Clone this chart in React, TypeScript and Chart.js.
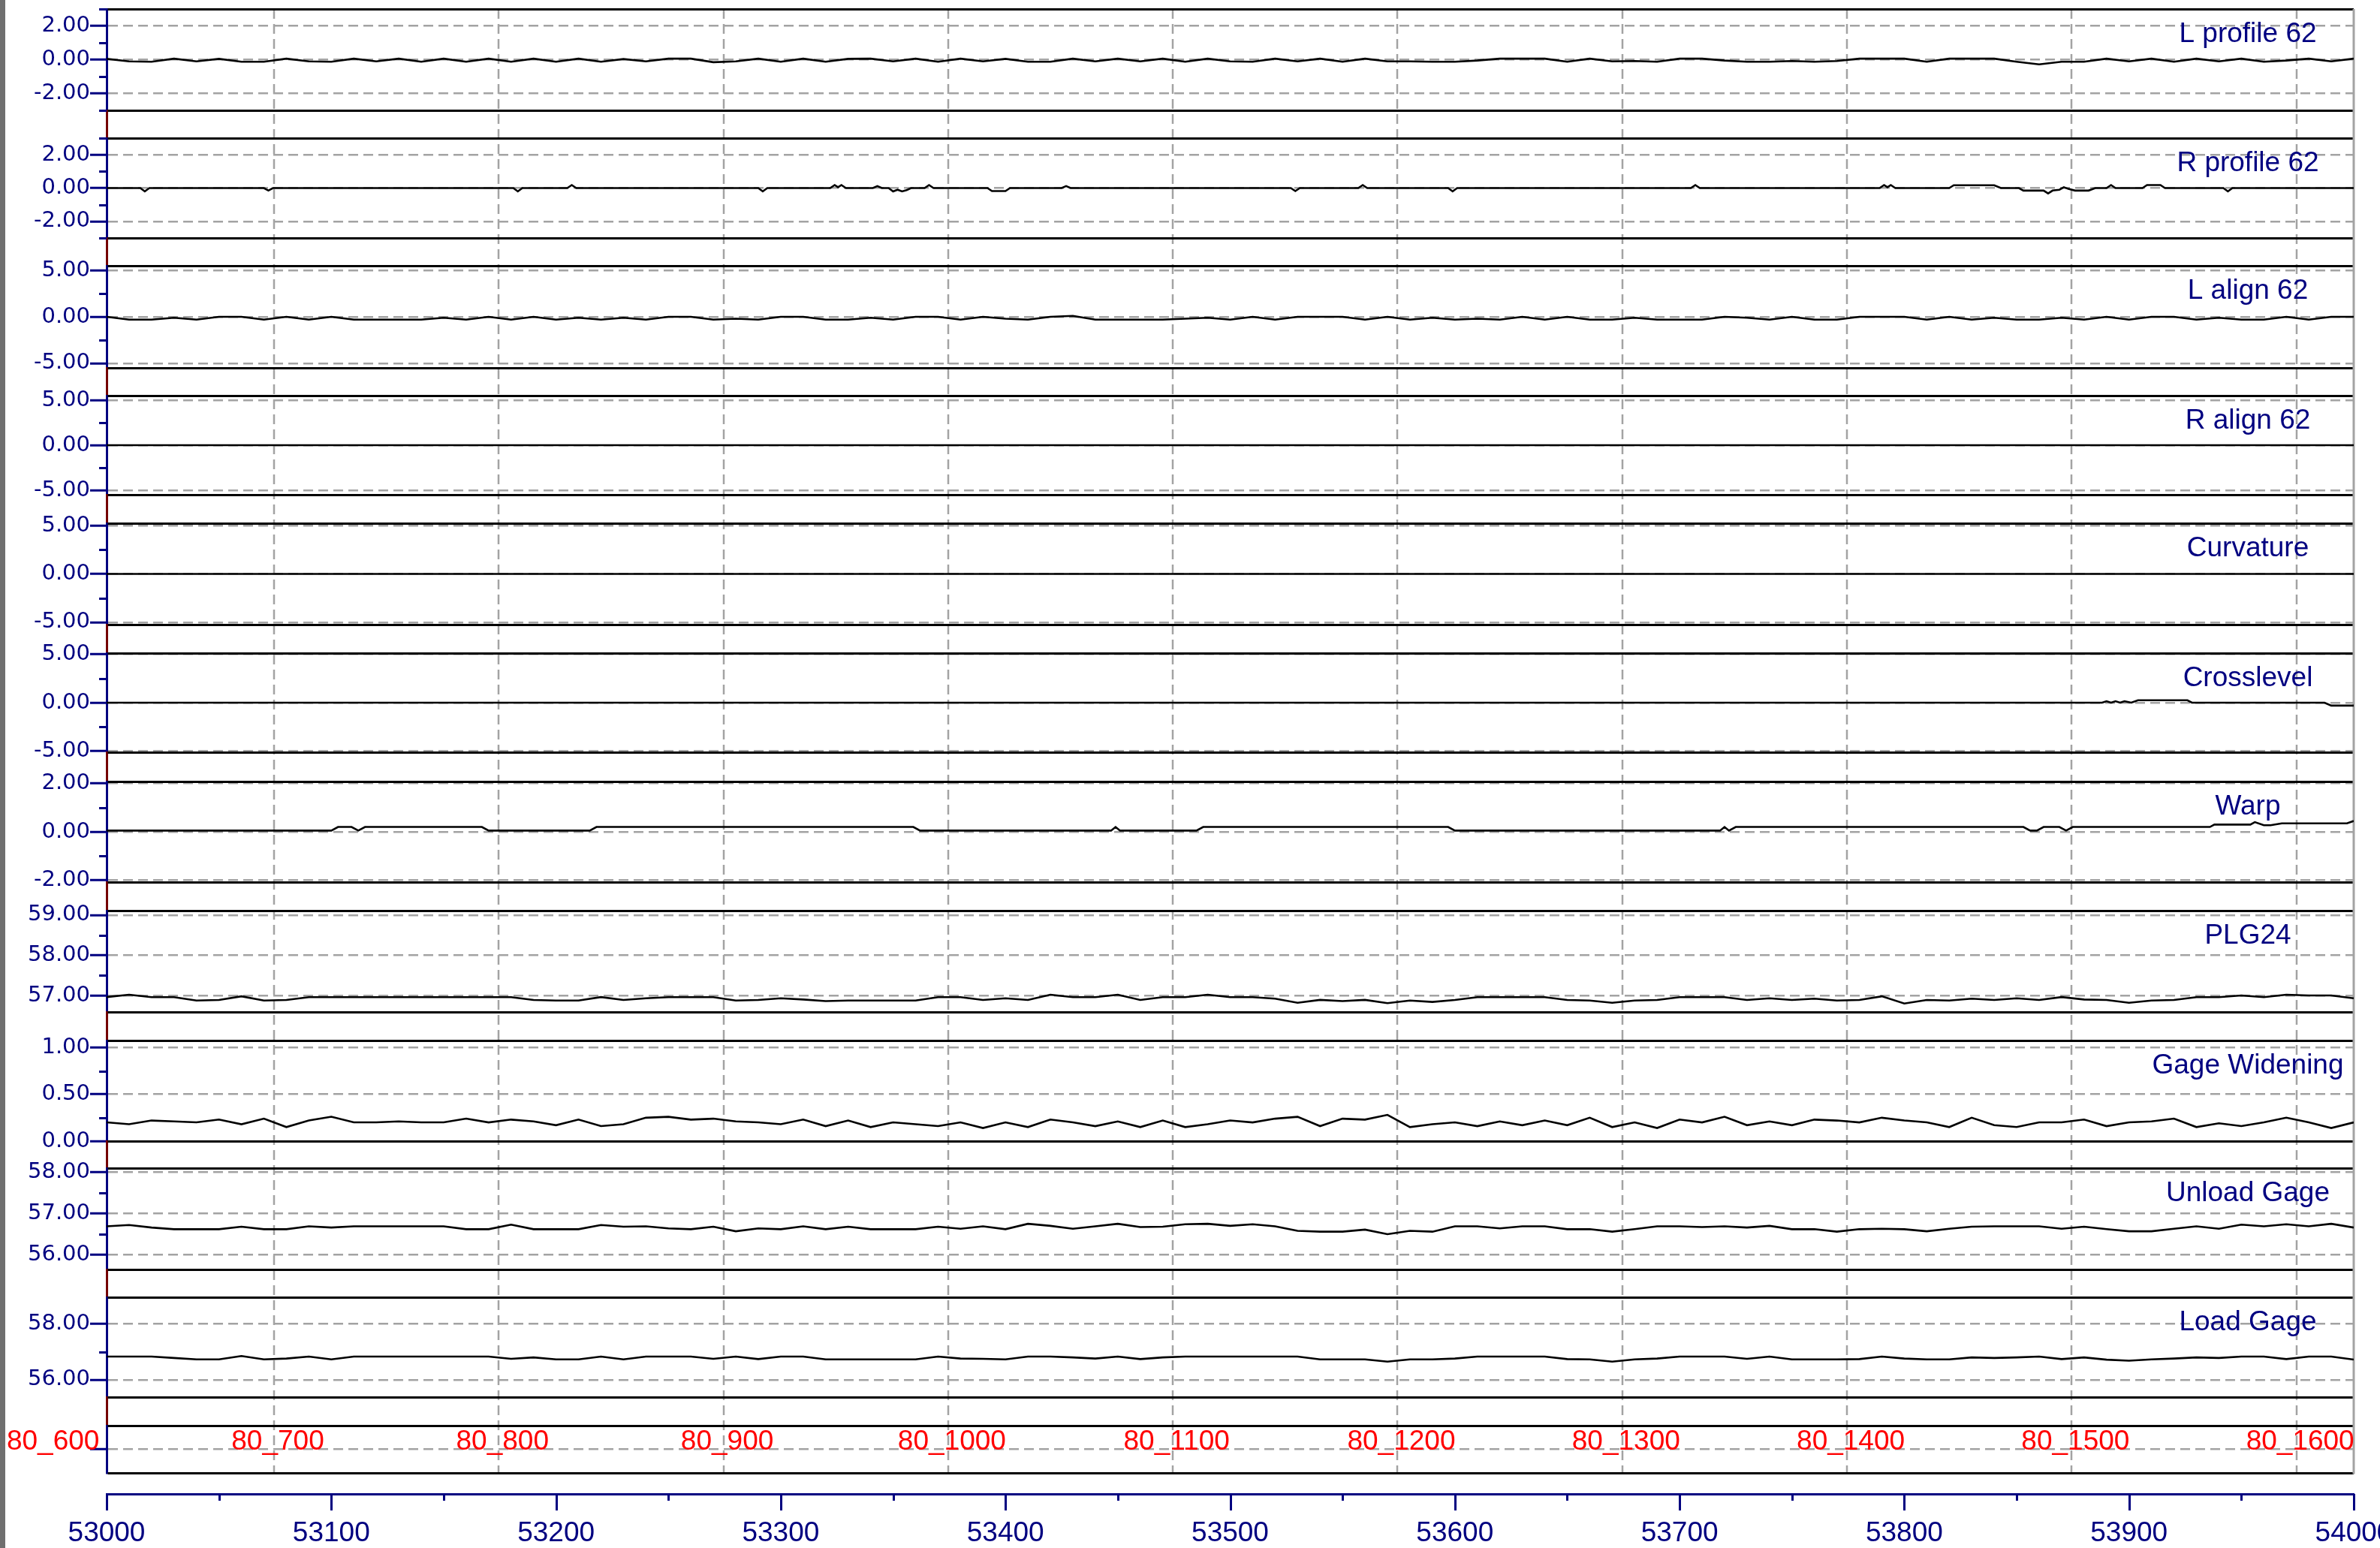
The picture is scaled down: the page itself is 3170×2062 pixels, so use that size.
import React, { useEffect, useRef } from 'react';
import { Chart, registerables } from 'chart.js';

Chart.register(...registerables);

// ---------------- distance axis ----------------
const X_MIN = 53000;
const X_MAX = 54000;
const X_TICK_STEP = 50; // labels every 100
const SAMPLE_START = 53000;
const SAMPLE_STEP = 10;

// ---------------- station markers ----------------
const STATION_POS = [52974.5, 53074.5, 53174.5, 53274.5, 53374.5, 53474.5, 53574.5, 53674.5, 53774.5, 53874.5, 53974.5];
const STATION_LABELS = ['80_600', '80_700', '80_800', '80_900', '80_1000', '80_1100', '80_1200', '80_1300', '80_1400', '80_1500', '80_1600'];

// ---------------- series (sampled every 10 from 53000) ----------------
const L_PROFILE = [
  0.05, -0.1, -0.12, 0.06, -0.1, 0.05, -0.12, -0.12, 0.06, -0.1,
  -0.12, 0.06, -0.1, 0.06, -0.12, 0.06, -0.12, 0.06, -0.12, 0.06,
  -0.12, 0.06, -0.12, 0.04, -0.1, 0.06, 0.06, -0.15, -0.1, 0.06,
  -0.12, 0.06, -0.12, 0.05, 0.06, -0.1, 0.06, -0.12, 0.06, -0.1,
  0.05, -0.12, -0.12, 0.06, -0.1, 0.06, -0.1, 0.06, -0.12, 0.06,
  -0.1,
  -0.12, 0.06, -0.1, 0.06, -0.12, 0.06, -0.1, -0.1, -0.12, -0.12,
  -0.05, 0.06, 0.06, 0.06, -0.12, 0.06, -0.1, -0.08, -0.12, 0.06,
  0.06, -0.05, -0.12, -0.12, -0.08, -0.12, -0.08, 0.06, 0.06, 0.06,
  -0.12, 0.06, 0.06, 0.06, -0.12, -0.28, -0.12, -0.12, 0.06, -0.1,
  0.06, -0.12, 0.06, -0.1, 0.06, -0.12, -0.05, 0.06, -0.1, 0.06,
];

const L_ALIGN = [
  0, -0.3, -0.3, -0.1, -0.3, 0, 0, -0.3, 0, -0.3,
  0, -0.3, -0.3, -0.3, -0.3, -0.1, -0.3, 0, -0.3, 0,
  -0.3, -0.1, -0.3, -0.1, -0.3, 0, 0, -0.3, -0.2, -0.3,
  0, 0, -0.3, -0.3, -0.1, -0.3, 0, 0, -0.3, 0,
  -0.2, -0.3, 0, 0.1, -0.3, -0.3, -0.3, -0.3, -0.2, -0.1,
  -0.3, 0, -0.3, 0, 0, 0, -0.3, 0, -0.3, -0.1,
  -0.3, -0.2, -0.3, 0, -0.3, 0, -0.3, -0.3, -0.1, -0.3,
  -0.3, -0.3, 0, -0.1, -0.3, 0, -0.3, -0.3, 0, 0,
  0, -0.3, 0, -0.3, -0.1, -0.3, -0.3, -0.1, -0.3, 0,
  -0.3, 0, 0, -0.3, -0.1, -0.3, -0.3, 0, -0.3, 0,
  0,
];

const PLG24 = [
  56.96, 57.02, 56.96, 56.96, 56.875, 56.89, 56.98, 56.875, 56.89, 56.96,
  56.96, 56.96, 56.96, 56.96, 56.96, 56.96, 56.96, 56.96, 56.96, 56.89,
  56.875, 56.875, 56.96, 56.89, 56.93, 56.96, 56.96, 56.96, 56.875, 56.89,
  56.93, 56.9, 56.86, 56.875, 56.875, 56.875, 56.875, 56.96, 56.96, 56.89,
  56.93, 56.89, 57.02, 56.96, 56.96, 57.02, 56.89, 56.96, 56.96, 57.02,
  56.96, 56.96, 56.92, 56.82, 56.89, 56.86, 56.89, 56.81, 56.875, 56.84,
  56.89, 56.96, 56.96, 56.96, 56.96, 56.89, 56.875, 56.82, 56.875, 56.89,
  56.96, 56.96, 56.96, 56.89, 56.93, 56.89, 56.92, 56.875, 56.89, 56.98,
  56.8, 56.89, 56.875, 56.92, 56.89, 56.93, 56.89, 56.96, 56.9, 56.89,
  56.82, 56.875, 56.89, 56.96, 56.96, 57.0, 56.96, 57.02, 57.0, 57.0,
  56.93,
];

const GAGE_WIDENING = [
  0.2, 0.18, 0.22, 0.21, 0.2, 0.23, 0.18, 0.24, 0.15, 0.22,
  0.26, 0.2, 0.2, 0.21, 0.2, 0.2, 0.24, 0.2, 0.23, 0.21,
  0.17, 0.23, 0.16, 0.18, 0.25, 0.26, 0.23, 0.24, 0.21, 0.2,
  0.18, 0.23, 0.16, 0.22, 0.15, 0.2, 0.18, 0.16, 0.2, 0.14,
  0.2, 0.15, 0.23, 0.2, 0.16, 0.21, 0.15, 0.22, 0.15, 0.18,
  0.22, 0.2, 0.24, 0.26, 0.16, 0.24, 0.23, 0.28, 0.15, 0.18,
  0.2, 0.16, 0.21, 0.17, 0.22, 0.17, 0.25, 0.15, 0.2, 0.14,
  0.23, 0.2, 0.26, 0.17, 0.21, 0.17, 0.23, 0.22, 0.2, 0.25,
  0.22, 0.2, 0.15, 0.25, 0.17, 0.15, 0.2, 0.2, 0.23, 0.16,
  0.2, 0.21, 0.24, 0.15, 0.19, 0.16, 0.2, 0.25, 0.2, 0.14,
  0.2,
];

const UNLOAD_GAGE = [
  56.69, 56.72, 56.66, 56.62, 56.62, 56.62, 56.68, 56.62, 56.62, 56.69,
  56.66, 56.69, 56.69, 56.69, 56.69, 56.69, 56.62, 56.62, 56.73, 56.62,
  56.62, 56.62, 56.72, 56.68, 56.69, 56.64, 56.62, 56.68, 56.57, 56.64,
  56.62, 56.69, 56.62, 56.68, 56.62, 56.62, 56.62, 56.68, 56.63, 56.69,
  56.62, 56.75, 56.7, 56.63, 56.69, 56.75, 56.67, 56.68, 56.74, 56.75,
  56.7, 56.74, 56.69, 56.58, 56.56, 56.56, 56.61, 56.5, 56.58, 56.56,
  56.69, 56.69, 56.64, 56.69, 56.69, 56.62, 56.62, 56.56, 56.62, 56.69,
  56.69, 56.67, 56.69, 56.66, 56.7, 56.62, 56.62, 56.56, 56.62, 56.63,
  56.62, 56.57, 56.63, 56.68, 56.69, 56.69, 56.69, 56.63, 56.68, 56.62,
  56.57, 56.57, 56.63, 56.69, 56.63, 56.73, 56.69, 56.74, 56.69, 56.75,
  56.66,
];

const LOAD_GAGE = [
  56.83, 56.83, 56.83, 56.78, 56.73, 56.73, 56.85, 56.73, 56.76, 56.83,
  56.73, 56.83, 56.83, 56.83, 56.83, 56.83, 56.83, 56.83, 56.75, 56.8,
  56.73, 56.73, 56.83, 56.73, 56.83, 56.83, 56.83, 56.75, 56.83, 56.74,
  56.83, 56.83, 56.73, 56.73, 56.73, 56.73, 56.73, 56.83, 56.76, 56.75,
  56.73, 56.83, 56.83, 56.8, 56.76, 56.83, 56.74, 56.8, 56.83, 56.83,
  56.83, 56.83, 56.83, 56.83, 56.73, 56.73, 56.73, 56.65, 56.73, 56.73,
  56.76, 56.83, 56.83, 56.83, 56.83, 56.74, 56.73, 56.65, 56.73, 56.76,
  56.83, 56.83, 56.83, 56.75, 56.83, 56.73, 56.73, 56.73, 56.74, 56.83,
  56.76, 56.73, 56.73, 56.8, 56.78, 56.8, 56.83, 56.74, 56.8, 56.72,
  56.68, 56.73, 56.76, 56.8, 56.78, 56.83, 56.83, 56.74, 56.83, 56.83,
  56.72,
];

// ---------------- series given as [distance, value] pairs ----------------
const R_PROFILE = [
  [53000, 0],
  [53015, 0], [53017, -0.2], [53019, 0],
  [53070, 0], [53072, -0.15], [53074, 0],
  [53181, 0], [53183, -0.2], [53185, 0],
  [53205, 0], [53207, 0.18], [53209, 0],
  [53290, 0], [53292, -0.2], [53294, 0],
  [53322, 0], [53324, 0.18], [53325.5, 0.05], [53327, 0.18], [53329, 0],
  [53341, 0], [53343, 0.12], [53345, 0],
  [53348, 0], [53350, -0.2], [53352, -0.1], [53354, -0.2], [53356, -0.12], [53358, 0],
  [53364, 0], [53366, 0.18], [53368, 0],
  [53392, 0], [53394, -0.18], [53400, -0.18], [53402, 0],
  [53425, 0], [53427, 0.12], [53429, 0],
  [53527, 0], [53529, -0.18], [53531, 0],
  [53557, 0], [53559, 0.18], [53561, 0],
  [53597, 0], [53599, -0.2], [53601, 0],
  [53705, 0], [53707, 0.18], [53709, 0],
  [53789, 0], [53791, 0.18], [53792.5, 0.05], [53794, 0.18], [53796, 0],
  [53820, 0], [53822, 0.17], [53840, 0.17], [53843, 0],
  [53851, 0], [53853, -0.15], [53862, -0.15], [53864, -0.32], [53866, -0.15], [53869, -0.1],
  [53871, 0.05], [53873, -0.05], [53876, -0.15], [53882, -0.15], [53885, 0],
  [53890, 0], [53892, 0.18], [53894, 0],
  [53906, 0], [53908, 0.18], [53914, 0.18], [53916, 0],
  [53942, 0], [53944, -0.2], [53946, 0],
  [54000, 0],
];
const R_ALIGN = [[53000, 0], [54000, 0]];
const CURVATURE = [[53000, 0], [54000, 0]];
const CROSSLEVEL = [
  [53000, 0], [53888, 0], [53890, 0.15], [53892, 0], [53894, 0.15], [53896, 0], [53898, 0.15],
  [53901, 0], [53904, 0.25], [53926, 0.25], [53928, 0], [53987, 0], [53990, -0.3], [54000, -0.3],
];
const WARP = [
  [53000, 0.05], [53100, 0.05], [53103, 0.2], [53109, 0.2], [53112, 0.05], [53115, 0.2],
  [53167, 0.2], [53170, 0.05], [53215, 0.05], [53218, 0.2], [53359, 0.2], [53362, 0.05],
  [53447, 0.05], [53449, 0.2], [53451, 0.05], [53485, 0.05], [53488, 0.2], [53597, 0.2],
  [53600, 0.05], [53718, 0.05], [53720, 0.2], [53722, 0.05], [53725, 0.2], [53853, 0.2],
  [53856, 0.05], [53859, 0.05], [53862, 0.2], [53869, 0.2], [53872, 0.05], [53875, 0.2],
  [53936, 0.2], [53938, 0.3], [53954, 0.3], [53956, 0.4], [53960, 0.27], [53963, 0.27],
  [53968, 0.35], [53997, 0.35], [54000, 0.45],
];

// ---------------- strips ----------------
const TITLES = ['L profile 62', 'R profile 62', 'L align 62', 'R align 62', 'Curvature', 'Crosslevel', 'Warp', 'PLG24', 'Gage Widening', 'Unload Gage', 'Load Gage', ''];
const AXIS_MIN = [-3, -3, -5.5, -5.5, -5.25, -5.1, -2.08, 56.59, 0, 55.65, 55.38, 0];
const AXIS_MAX = [3, 3, 5.5, 5.5, 5.25, 5.1, 2.08, 59.11, 1.075, 58.09, 58.95, 2];
const MAJOR_TICKS = [
  [2, 0, -2], [2, 0, -2], [5, 0, -5], [5, 0, -5], [5, 0, -5], [5, 0, -5],
  [2, 0, -2], [59, 58, 57], [1, 0.5, 0], [58, 57, 56], [58, 56], [1],
];
const MINOR_TICKS = [
  [3, 1, -1, -3], [3, 1, -1, -3], [2.5, -2.5], [2.5, -2.5], [2.5, -2.5], [2.5, -2.5],
  [1, -1], [58.5, 57.5], [0.75, 0.25], [57.5, 56.5], [57], [],
];
const STATION_TICK = 1;

// layout (pixel heights of strips and of the gaps between them)
const STRIP_HEIGHTS = [135, 133, 136, 132, 135, 132, 134, 135, 134, 135, 133, 63];
const GAP_HEIGHTS = [37, 37, 37, 38, 38, 39, 38, 38, 36, 37, 38];
const AXIS_GAP = 28;

const NAVY = '#000080';
const DARK_RED = '#750000';
const GRID_GRAY = '#a3a3a3';
const RED = '#ff0000';
const ARIAL = "'Liberation Sans', Arial, sans-serif";
const VERDANA = "'DejaVu Sans', Verdana, sans-serif";
const DASH = [13, 7];

const sampled = (vals: number[]) => vals.map((y, i) => ({ x: SAMPLE_START + i * SAMPLE_STEP, y }));
const paired = (pts: number[][]) => pts.map(([x, y]) => ({ x, y }));

const SERIES = [
  sampled(L_PROFILE), paired(R_PROFILE), sampled(L_ALIGN), paired(R_ALIGN), paired(CURVATURE),
  paired(CROSSLEVEL), paired(WARP), sampled(PLG24), sampled(GAGE_WIDENING), sampled(UNLOAD_GAGE), sampled(LOAD_GAGE),
];

const stripId = (i: number) => `s${i}`;

function buildScales() {
  const items: any[] = [];
  STRIP_HEIGHTS.forEach((h, i) => {
    items.push({ id: stripId(i), kind: 'strip', h, i });
    if (i < GAP_HEIGHTS.length) items.push({ id: `g${i}`, kind: 'gap', h: GAP_HEIGHTS[i] });
  });
  items.push({ id: 'pad', kind: 'pad', h: AXIS_GAP });

  const fitLeft = (s: any) => {
    s.width = 142;
    s.paddingTop = 0;
    s.paddingBottom = 0;
  };

  const scales: any = {
    x: {
      type: 'linear',
      position: 'bottom',
      min: X_MIN,
      max: X_MAX,
      ticks: {
        stepSize: X_TICK_STEP,
        autoSkip: false,
        maxRotation: 0,
        color: NAVY,
        font: { family: ARIAL, size: 37 },
        padding: 31,
        callback: (v: any) => (Number(v) % 100 === 0 ? String(v) : ''),
      },
      grid: { display: false, drawTicks: false },
      border: { display: true, color: NAVY, width: 3 },
      afterFit: (s: any) => {
        s.height = 72;
        s.paddingLeft = 0;
        s.paddingRight = 0;
      },
    },
  };

  items.forEach((it, k) => {
    const weight = items.length - k;
    if (it.kind === 'strip') {
      const i = it.i;
      scales[it.id] = {
        type: 'linear',
        position: 'left',
        stack: 'rail',
        stackWeight: it.h,
        weight,
        min: AXIS_MIN[i],
        max: AXIS_MAX[i],
        afterBuildTicks: (s: any) => {
          s.ticks = MAJOR_TICKS[i].map((v) => ({ value: v }));
        },
        ticks: {
          autoSkip: false,
          color: NAVY,
          padding: 0,
          font: { family: VERDANA, size: 29 },
          callback: (v: any) => (i === STRIP_HEIGHTS.length - 1 ? '' : Number(v).toFixed(2)),
        },
        grid: {
          drawOnChartArea: true,
          color: GRID_GRAY,
          lineWidth: 2.5,
          drawTicks: true,
          tickLength: 22,
          tickWidth: 3,
          tickColor: NAVY,
        },
        border: { display: true, color: NAVY, width: 3, dash: DASH },
        afterFit: fitLeft,
      };
    } else {
      scales[it.id] = {
        type: 'linear',
        position: 'left',
        stack: 'rail',
        stackWeight: it.h,
        weight,
        min: 0,
        max: 1,
        ticks: { display: false },
        grid: { display: false, drawTicks: false },
        border: { display: it.kind === 'gap', color: DARK_RED, width: 3 },
        afterFit: fitLeft,
      };
    }
  });
  return scales;
}

const decorPlugin = {
  id: 'railDecor',
  beforeDraw(chart: any) {
    const { ctx, height } = chart;
    ctx.save();
    ctx.fillStyle = '#6f6f6f';
    ctx.fillRect(0, 0, 7, height);
    ctx.restore();
  },
  beforeDatasetsDraw(chart: any) {
    const { ctx, chartArea, scales } = chart;
    const xs = scales.x;
    const station = scales[stripId(STRIP_HEIGHTS.length - 1)];
    const bottom = station.bottom;
    ctx.save();
    // station grid lines
    ctx.strokeStyle = GRID_GRAY;
    ctx.lineWidth = 2.5;
    ctx.setLineDash(DASH);
    STATION_POS.forEach((v) => {
      const px = Math.round(xs.getPixelForValue(v));
      if (px <= chartArea.left + 2 || px >= chartArea.right - 2) return;
      ctx.beginPath();
      ctx.moveTo(px, chartArea.top);
      ctx.lineTo(px, bottom);
      ctx.stroke();
    });
    ctx.setLineDash([]);
    // strip frames
    ctx.strokeStyle = '#000';
    ctx.lineWidth = 3;
    STRIP_HEIGHTS.forEach((_, i) => {
      const s = scales[stripId(i)];
      [s.top, s.bottom].forEach((y: number) => {
        const yy = Math.round(y) + 0.5;
        ctx.beginPath();
        ctx.moveTo(chartArea.left + 1.5, yy);
        ctx.lineTo(chartArea.right, yy);
        ctx.stroke();
      });
    });
    // right border
    ctx.strokeStyle = GRID_GRAY;
    ctx.lineWidth = 3;
    ctx.beginPath();
    ctx.moveTo(chartArea.right, chartArea.top);
    ctx.lineTo(chartArea.right, bottom + 1.5);
    ctx.stroke();
    // minor y ticks
    ctx.strokeStyle = NAVY;
    ctx.lineWidth = 3;
    MINOR_TICKS.forEach((vals, i) => {
      const s = scales[stripId(i)];
      vals.forEach((v) => {
        const y = Math.round(s.getPixelForValue(v)) + 0.5;
        ctx.beginPath();
        ctx.moveTo(chartArea.left - 10, y);
        ctx.lineTo(chartArea.left, y);
        ctx.stroke();
      });
    });
    // x tick marks
    xs.ticks.forEach((t: any) => {
      const px = Math.round(xs.getPixelForValue(t.value)) + 0.5;
      const len = t.value % 100 === 0 ? 22 : 9;
      ctx.beginPath();
      ctx.moveTo(px, xs.top);
      ctx.lineTo(px, xs.top + len);
      ctx.stroke();
    });
    ctx.restore();
  },
  afterDatasetsDraw(chart: any) {
    const { ctx, chartArea, scales } = chart;
    const xs = scales.x;
    ctx.save();
    ctx.font = `37px ${ARIAL}`;
    ctx.textAlign = 'center';
    ctx.textBaseline = 'alphabetic';
    ctx.fillStyle = NAVY;
    TITLES.forEach((t, i) => {
      if (!t) return;
      const s = scales[stripId(i)];
      ctx.fillText(t, chartArea.right - 141, s.top + 44);
    });
    const station = scales[stripId(STRIP_HEIGHTS.length - 1)];
    const baseY = station.getPixelForValue(STATION_TICK);
    ctx.fillStyle = RED;
    STATION_POS.forEach((v, k) => {
      const px = xs.getPixelForValue(v);
      ctx.fillText(STATION_LABELS[k], px + 5, baseY);
    });
    ctx.restore();
  },
};

export default function App() {
  const ref = useRef<HTMLCanvasElement>(null);
  useEffect(() => {
    if (!ref.current) return;
    const datasets = SERIES.map((data, i) => ({
      label: TITLES[i],
      data,
      xAxisID: 'x',
      yAxisID: stripId(i),
      borderColor: '#000',
      borderWidth: 2.6,
      pointRadius: 0,
      fill: false,
      tension: 0,
    }));
    const chart = new Chart(ref.current, {
      type: 'line',
      data: { datasets },
      options: {
        responsive: false,
        animation: false,
        devicePixelRatio: 1,
        events: [],
        layout: { padding: { top: 12, right: 35, bottom: 0, left: 0 } },
        plugins: { legend: { display: false }, tooltip: { enabled: false }, title: { display: false } },
        scales: buildScales(),
      } as any,
      plugins: [decorPlugin],
    } as any);
    return () => chart.destroy();
  }, []);
  return (
    <div style={{ position: 'absolute', left: 0, top: 0, width: 3170, height: 2062, background: '#fff' }}>
      <canvas ref={ref} width={3170} height={2062} style={{ display: 'block', width: 3170, height: 2062 }} />
    </div>
  );
}
